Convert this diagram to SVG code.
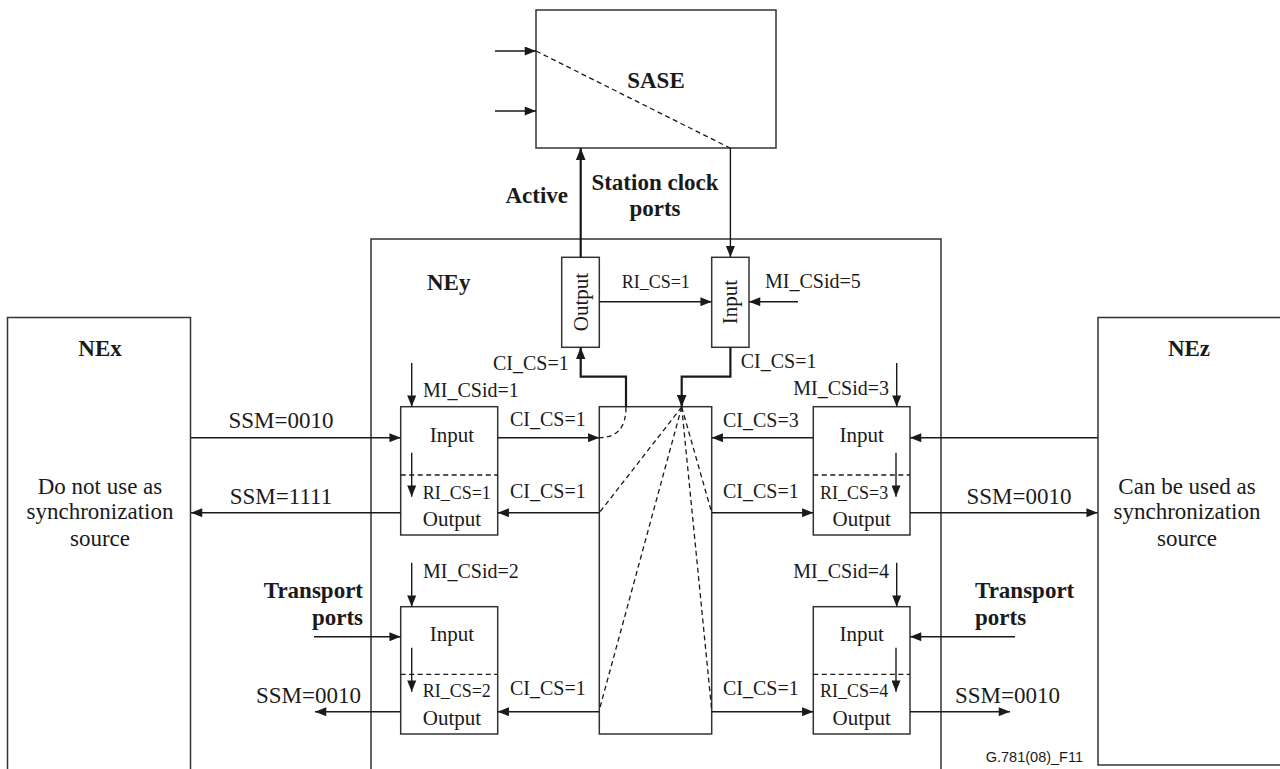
<svg xmlns="http://www.w3.org/2000/svg" width="1280" height="769" viewBox="0 0 1280 769">
<defs>
<marker id="ah" viewBox="0 0 10 8" refX="10" refY="4" markerWidth="12" markerHeight="9" orient="auto" markerUnits="userSpaceOnUse"><path d="M0,0 L10,4 L0,8 z" fill="#1a1a1a"/></marker>
<marker id="ahb" viewBox="0 0 10 8" refX="10" refY="4" markerWidth="12" markerHeight="10" orient="auto" markerUnits="userSpaceOnUse"><path d="M0,0 L10,4 L0,8 z" fill="#1a1a1a"/></marker>
<style>
.box{fill:#fff;stroke:#333;stroke-width:1.5}
.ln{fill:none;stroke:#1a1a1a;stroke-width:1.4}
.thk{fill:none;stroke:#1a1a1a;stroke-width:2.2}
.dash{fill:none;stroke:#1a1a1a;stroke-width:1.3;stroke-dasharray:5,3.5}
.arr{marker-end:url(#ah)}
.arrb{marker-end:url(#ahb)}
text{font-family:"Liberation Serif","Times New Roman",serif;fill:#1a1a1a}
.b{font-weight:bold;font-size:23px}
.r{font-size:21px}
.s{font-size:20px}
.ssm{font-size:23px}
.ri{font-size:18px}
.big{font-size:23px}
.m{text-anchor:middle}
.e{text-anchor:end}
.id{font-family:"Liberation Sans",Arial,sans-serif;font-size:14.5px}
</style>
</defs>
<rect width="1280" height="769" fill="#fff"/>

<g id="NEx">
<rect class="box" x="7.5" y="317.5" width="183" height="470"/>
<text class="b m" x="100" y="356">NEx</text>
<text class="big m" x="100" y="494">Do not use as</text>
<text class="big m" x="100" y="519">synchronization</text>
<text class="big m" x="100" y="546">source</text>
</g>

<g id="NEz">
<rect class="box" x="1098" y="317.5" width="200" height="447.5"/>
<text class="b m" x="1189" y="356">NEz</text>
<text class="big m" x="1187" y="494">Can be used as</text>
<text class="big m" x="1187" y="519">synchronization</text>
<text class="big m" x="1187" y="546">source</text>
</g>

<g id="NEy">
<rect class="box" x="371" y="239" width="570" height="560"/>
<text class="b" x="427" y="290">NEy</text>
</g>

<g id="SASE">
<rect class="box" x="536" y="10" width="240" height="138"/>
<line class="dash" x1="536" y1="51" x2="730" y2="148"/>
<text class="b m" x="656" y="88">SASE</text>
</g>

<g id="sc-output">
<rect class="box" x="561.7" y="257.3" width="37.6" height="90"/>
<text class="r m" transform="translate(580.5,302) rotate(-90)" x="0" y="7">Output</text>
</g>

<g id="sc-input">
<rect class="box" x="711.7" y="257.3" width="37.3" height="90"/>
<text class="r m" transform="translate(730.4,302) rotate(-90)" x="0" y="7">Input</text>
</g>

<g id="switch">
<rect class="box" x="599.3" y="406.7" width="112.4" height="327.3"/>
<path class="dash" d="M626,407 Q626,437.7 599.3,437.7"/>
<line class="dash" x1="681.7" y1="407" x2="599.3" y2="512.7"/>
<line class="dash" x1="681.7" y1="407" x2="711.7" y2="512.7"/>
<line class="dash" x1="681.7" y1="407" x2="599.3" y2="710"/>
<line class="dash" x1="681.7" y1="407" x2="711.7" y2="710"/>
</g>

<g id="port1">
<rect class="box" x="400.7" y="406.7" width="97" height="128.3"/>
<line class="dash" x1="400.7" y1="475" x2="497.7" y2="475"/>
<text class="r m" x="452" y="442">Input</text>
<line class="ln arr" x1="411.7" y1="452.7" x2="411.7" y2="496.7"/>
<text class="ri" x="422.7" y="499">RI_CS=1</text>
<text class="r m" x="452" y="526">Output</text>
</g>

<g id="port2">
<rect class="box" x="400.7" y="606.7" width="97" height="127.3"/>
<line class="dash" x1="400.7" y1="674.3" x2="497.7" y2="674.3"/>
<text class="r m" x="452" y="641">Input</text>
<line class="ln arr" x1="411.7" y1="647.7" x2="411.7" y2="691.7"/>
<text class="ri" x="422.7" y="697">RI_CS=2</text>
<text class="r m" x="452" y="725">Output</text>
</g>

<g id="port3">
<rect class="box" x="813.3" y="406.7" width="96.7" height="128.3"/>
<line class="dash" x1="813.3" y1="475" x2="910" y2="475"/>
<text class="r m" x="861.7" y="442">Input</text>
<line class="ln arr" x1="896" y1="452.7" x2="896" y2="496.7"/>
<text class="ri" x="820" y="499">RI_CS=3</text>
<text class="r m" x="861.7" y="526">Output</text>
</g>

<g id="port4">
<rect class="box" x="813.3" y="606.7" width="96.7" height="127.3"/>
<line class="dash" x1="813.3" y1="674.3" x2="910" y2="674.3"/>
<text class="r m" x="861.7" y="641">Input</text>
<line class="ln arr" x1="896" y1="647.7" x2="896" y2="691.7"/>
<text class="ri" x="820" y="697">RI_CS=4</text>
<text class="r m" x="861.7" y="725">Output</text>
</g>

<g id="connectors">
<line class="ln arr" x1="495" y1="51" x2="536" y2="51"/>
<line class="ln arr" x1="495" y1="111" x2="536" y2="111"/>
<line class="thk arrb" x1="580.7" y1="257.3" x2="580.7" y2="148"/>
<line class="ln arr" x1="730.4" y1="148" x2="730.4" y2="257.3"/>
<line class="ln arr" x1="599.3" y1="301.7" x2="711.7" y2="301.7"/>
<line class="ln arr" x1="798" y1="301.7" x2="749" y2="301.7"/>
<path class="thk arrb" d="M626,407 V376.7 H580.7 V347.3"/>
<path class="thk arrb" d="M730.4,347.3 V376.7 H681.7 V407"/>
<line class="ln arr" x1="411.7" y1="363" x2="411.7" y2="406.7"/>
<line class="ln arr" x1="896.7" y1="363" x2="896.7" y2="406.7"/>
<line class="ln arr" x1="411.7" y1="562.7" x2="411.7" y2="606.7"/>
<line class="ln arr" x1="896.7" y1="562.7" x2="896.7" y2="606.7"/>
<line class="ln arr" x1="191" y1="437.7" x2="400.7" y2="437.7"/>
<line class="ln arr" x1="400.7" y1="512.7" x2="191" y2="512.7"/>
<line class="ln arr" x1="497.7" y1="437.7" x2="599.3" y2="437.7"/>
<line class="ln arr" x1="599.3" y1="512.7" x2="497.7" y2="512.7"/>
<line class="ln arr" x1="813.3" y1="437.7" x2="711.7" y2="437.7"/>
<line class="ln arr" x1="711.7" y1="512.7" x2="813.3" y2="512.7"/>
<line class="ln arr" x1="1097.7" y1="437.7" x2="910" y2="437.7"/>
<line class="ln arr" x1="910" y1="512.7" x2="1097.7" y2="512.7"/>
<line class="ln arr" x1="314" y1="636.7" x2="400.7" y2="636.7"/>
<line class="ln arr" x1="599.3" y1="711.7" x2="497.7" y2="711.7"/>
<line class="ln arr" x1="400.7" y1="711.7" x2="315" y2="711.7"/>
<line class="ln arr" x1="1015" y1="636.7" x2="910" y2="636.7"/>
<line class="ln arr" x1="711.7" y1="711.7" x2="813.3" y2="711.7"/>
<line class="ln arr" x1="910" y1="711.7" x2="1010" y2="711.7"/>

<text class="b e" x="568" y="203">Active</text>
<text class="b m" x="655" y="190">Station clock</text>
<text class="b m" x="655" y="216">ports</text>
<text class="ri" x="621.7" y="288">RI_CS=1</text>
<text class="s" x="765" y="288">MI_CSid=5</text>
<text class="s" x="493" y="370">CI_CS=1</text>
<text class="s" x="740.7" y="368">CI_CS=1</text>
<text class="s" x="423" y="397">MI_CSid=1</text>
<text class="s e" x="889" y="395">MI_CSid=3</text>
<text class="s" x="423" y="578">MI_CSid=2</text>
<text class="s e" x="889" y="578">MI_CSid=4</text>
<text class="ssm m" x="281" y="428">SSM=0010</text>
<text class="ssm m" x="281" y="504">SSM=1111</text>
<text class="s" x="510" y="426">CI_CS=1</text>
<text class="s" x="510" y="498">CI_CS=1</text>
<text class="s" x="723" y="427">CI_CS=3</text>
<text class="s" x="723" y="498">CI_CS=1</text>
<text class="ssm m" x="1019" y="504">SSM=0010</text>
<text class="s" x="510" y="695">CI_CS=1</text>
<text class="s" x="723" y="695">CI_CS=1</text>
<text class="ssm e" x="361" y="703">SSM=0010</text>
<text class="ssm" x="955" y="703">SSM=0010</text>
<text class="b e" x="363" y="598">Transport</text>
<text class="b e" x="363" y="625">ports</text>
<text class="b" x="975" y="598">Transport</text>
<text class="b" x="975" y="625">ports</text>
</g>
<text class="id e" x="1083" y="762">G.781(08)_F11</text>
</svg>
